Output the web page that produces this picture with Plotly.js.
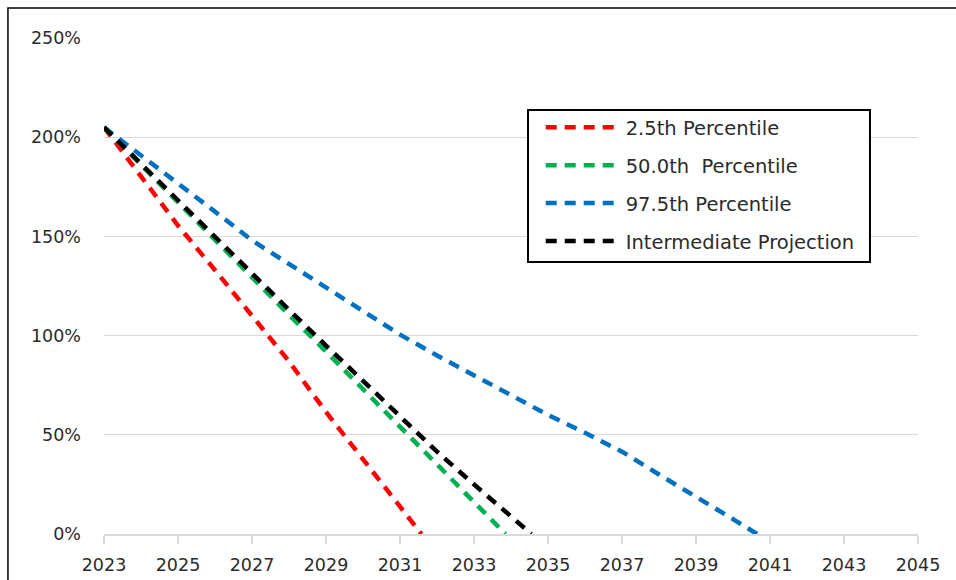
<!DOCTYPE html>
<html>
<head>
<meta charset="utf-8">
<script src="https://cdn.plot.ly/plotly-3.0.1.min.js"></script>
<style>html,body{margin:0;padding:0;background:#fff;}#chart{width:956px;height:580px;}</style>
</head>
<body>
<div id="chart"></div>
<script>
// Data (percent values)
var seriesNames = ["2.5th Percentile", "50.0th  Percentile", "97.5th Percentile", "Intermediate Projection"];

var yearsLow = [2023, 2024, 2025, 2026, 2027, 2028, 2029, 2030, 2031, 2031.58];
var valuesLow = [205, 180.5, 155.5, 133, 110, 87, 61.5, 38, 14, 0];

var yearsMid = [2023, 2024, 2025, 2026, 2027, 2028, 2029, 2030, 2031, 2032, 2033, 2033.85];
var valuesMid = [205, 186, 167, 148, 129, 110.5, 92, 73, 54, 35, 16, 0];

var yearsHigh = [2023, 2024, 2025, 2026, 2027, 2028, 2029, 2030, 2031, 2032, 2033, 2034, 2035, 2036, 2037, 2038, 2039, 2040, 2040.65];
var valuesHigh = [205, 191, 177, 162.5, 148, 136, 124, 112, 100.5, 90, 80, 70, 60, 51, 41.5, 30, 19, 7.5, 0];

var yearsInt = [2023, 2024, 2025, 2026, 2027, 2028, 2029, 2030, 2031, 2032, 2033, 2034, 2034.55];
var valuesInt = [205, 186.5, 168, 149.5, 131, 113, 95, 77, 59, 41.5, 25, 9, 0];

var xTicks = [2023, 2025, 2027, 2029, 2031, 2033, 2035, 2037, 2039, 2041, 2043, 2045];
var yTicks = [0, 50, 100, 150, 200, 250];
var yTickLabels = ["0%", "50%", "100%", "150%", "200%", "250%"];

var colors = ["#FF0000", "#00B050", "#0070C0", "#000000"];
var xs = [yearsLow, yearsMid, yearsHigh, yearsInt];
var ys = [valuesLow, valuesMid, valuesHigh, valuesInt];

var font = "DejaVu Sans, Liberation Sans, sans-serif";
var txtColor = "#2b2b2b";
var traces = [];
for (var i = 0; i < 4; i++) {
  traces.push({
    type: "scatter",
    mode: "lines",
    x: xs[i],
    y: ys[i],
    name: seriesNames[i],
    legendgroup: "g" + i,
    line: {color: colors[i], width: 4.5, dash: "11px,8px"},
    hoverinfo: "x+y+name"
  });
}

var layout = {
  width: 956,
  height: 580,
  margin: {l: 104, r: 38, t: 38, b: 46},
  paper_bgcolor: "#ffffff",
  plot_bgcolor: "#ffffff",
  font: {family: font, size: 17.5, color: txtColor},
  showlegend: true,
  legend: {
    x: 0.5365, y: 0.8585, xanchor: "left", yanchor: "top",
    borderwidth: 0, bgcolor: "rgba(255,255,255,0)",
    font: {family: font, size: 19.5, color: txtColor},
    tracegroupgap: 9.5,
    itemwidth: 75
  },
  xaxis: {
    range: [2023, 2045],
    tickvals: xTicks,
    ticktext: xTicks.map(String),
    showgrid: false,
    zeroline: false,
    showline: true,
    linecolor: "#d9d9d9",
    linewidth: 1.5,
    ticks: "outside",
    ticklen: 8,
    tickwidth: 1.5,
    tickcolor: "#d9d9d9",
    ticklabelstandoff: 6,
    tickfont: {family: font, size: 17.5, color: txtColor}
  },
  xaxis2: {
    overlaying: "x",
    side: "bottom",
    range: [2023, 2045],
    tickvals: xTicks,
    showticklabels: false,
    showgrid: false,
    zeroline: false,
    showline: false,
    ticks: "inside",
    ticklen: 8,
    tickwidth: 1.5,
    tickcolor: "#d9d9d9"
  },
  yaxis: {
    range: [0, 250],
    tickvals: yTicks,
    ticktext: yTickLabels,
    showgrid: true,
    gridcolor: "#d9d9d9",
    gridwidth: 1,
    zeroline: false,
    showline: false,
    ticks: "",
    ticklabelstandoff: 22,
    tickfont: {family: font, size: 17.5, color: txtColor}
  },
  shapes: [
    {type: "rect", xref: "paper", yref: "paper",
     x0: -0.118, x1: 1.06, y0: -0.2, y1: 1.0605,
     line: {color: "#000000", width: 1.5}, fillcolor: "rgba(0,0,0,0)", layer: "below"},
    {type: "rect", xref: "paper", yref: "paper",
     x0: 0.5209, x1: 0.9410, y0: 0.5484, y1: 0.8548,
     line: {color: "#000000", width: 2}, fillcolor: "#ffffff", layer: "above"}
  ]
};

Plotly.newPlot("chart", traces, layout, {displayModeBar: false, staticPlot: true});
</script>
</body>
</html>
